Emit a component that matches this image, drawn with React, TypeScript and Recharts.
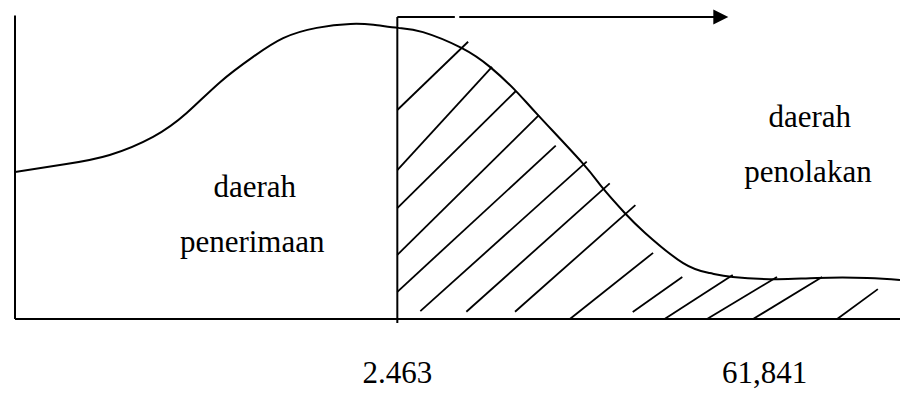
import { ComposedChart, Line, XAxis, YAxis, ReferenceLine, ReferenceDot } from 'recharts'

const SERIF = "'Liberation Serif', 'Times New Roman', Times, serif"

// density curve (x in 0..100 along the axis, y in 0..100 up the axis)
const curveX = [0, 5.8, 10.7, 15.6, 19.4, 23.2, 26.9, 30.3, 34.1, 37.9, 40.5, 43.3, 46.1, 50.5, 53.7, 56.5, 59.1, 64.1, 66.4, 68.9, 71.2, 75.5, 78.5, 81.1, 86.1, 90.6, 96.3, 100]
const curveY = [48.7, 51.3, 54.3, 60.3, 68.2, 78.5, 86.8, 93.0, 96.4, 97.7, 97.4, 96.4, 95.0, 89.7, 83.4, 75.8, 67.5, 51.7, 43.4, 35.1, 28.5, 18.5, 15.2, 13.9, 13.2, 13.6, 13.6, 12.9]

// critical value and the table value on the axis
const CRITICAL = 43.2
const tickValues = [CRITICAL, 84.7]
const tickLabels = ['2.463', '61,841']

// hand-drawn hatching of the rejection area: [x1, y1, x2, y2]
const hatch = [
  [CRITICAL, 69.2, 51.2, 91.8],
  [CRITICAL, 49.3, 53.9, 83.5],
  [CRITICAL, 36.7, 56.6, 75.5],
  [CRITICAL, 21.2, 59.2, 67.5],
  [CRITICAL, 9.0, 61.1, 57.4],
  [45.8, 2.6, 64.6, 52.1],
  [51.0, 2.4, 67.2, 44.9],
  [56.5, 2.4, 70.1, 37.7],
  [62.7, 0, 72.1, 21.9],
  [69.8, 2.3, 75.4, 13.9],
  [73.4, 0, 81.1, 14.6],
  [78.2, 0, 86.1, 13.9],
  [83.4, 0, 91.2, 13.9],
  [92.9, 0, 97.5, 9.9],
]

// arrow over the rejection area (the scan shows a small break in it)
const arrowParts = [
  [CRITICAL, 49.7],
  [50.2, 79.0],
]
const ARROW_TIP = 80.6

const regionText = ['daerah', 'penerimaan', 'daerah', 'penolakan']
const regionX = [27.1, 26.8, 89.8, 89.6]
const regionY = [40.4, 22.2, 63.6, 45.4]

const curve = curveX.map((x, i) => ({ x, y: curveY[i] }))

function AxisTick(props: any) {
  const { x, y, payload } = props
  const i = tickValues.indexOf(payload.value)
  return (
    <g>
      {payload.value === CRITICAL && (
        <line x1={x} x2={x} y1={y} y2={y + 4} stroke="#000" strokeWidth={2} />
      )}
      <text x={x} y={y + 64} textAnchor="middle" style={{ fontFamily: SERIF, fontSize: 31 }} fill="#000">
        {tickLabels[i]}
      </text>
    </g>
  )
}

export default function App() {
  return (
    <div style={{ position: 'absolute', left: 0, top: 0, width: 904, height: 394, background: '#fff' }}>
      <ComposedChart width={904} height={394} data={curve} margin={{ top: 17, right: 4, bottom: 0, left: 15 }}>
        <XAxis
          type="number"
          dataKey="x"
          domain={[0, 100]}
          ticks={tickValues}
          interval={0}
          tickSize={0}
          tickMargin={0}
          tickLine={false}
          height={75}
          axisLine={{ stroke: '#000', strokeWidth: 2 }}
          tick={(p: any) => <AxisTick {...p} />}
          allowDataOverflow
        />
        <YAxis type="number" domain={[0, 100]} width={0} hide allowDataOverflow />

        {/* left axis */}
        <ReferenceLine
          segment={[{ x: 0, y: 0 }, { x: 0, y: 100.5 }]}
          stroke="#000"
          strokeWidth={2}
          ifOverflow="visible"
        />

        {hatch.map(([x1, y1, x2, y2], i) => (
          <ReferenceLine
            key={'h' + i}
            segment={[{ x: x1, y: y1 }, { x: x2, y: y2 }]}
            stroke="#000"
            strokeWidth={1.8}
            ifOverflow="visible"
          />
        ))}

        <ReferenceLine
          segment={[{ x: CRITICAL, y: 0 }, { x: CRITICAL, y: 100 }]}
          stroke="#000"
          strokeWidth={2}
          ifOverflow="visible"
        />
        {arrowParts.map(([a, b], i) => (
          <ReferenceLine
            key={'a' + i}
            segment={[{ x: a, y: 100 }, { x: b, y: 100 }]}
            stroke="#000"
            strokeWidth={2}
            ifOverflow="visible"
          />
        ))}
        <ReferenceDot
          x={ARROW_TIP}
          y={100}
          r={0}
          ifOverflow="visible"
          shape={(p: any) => (
            <polygon
              points={`${p.cx},${p.cy} ${p.cx - 15},${p.cy - 7.5} ${p.cx - 15},${p.cy + 7.5}`}
              fill="#000"
            />
          )}
        />

        <Line
          type="natural"
          dataKey="y"
          stroke="#000"
          strokeWidth={2}
          dot={false}
          activeDot={false}
          isAnimationActive={false}
        />

        {regionText.map((t, i) => (
          <ReferenceDot
            key={'t' + i}
            x={regionX[i]}
            y={regionY[i]}
            r={0}
            ifOverflow="visible"
            shape={(p: any) => (
              <text x={p.cx} y={p.cy} textAnchor="middle" style={{ fontFamily: SERIF, fontSize: 31 }} fill="#000">
                {t}
              </text>
            )}
          />
        ))}
      </ComposedChart>
    </div>
  )
}
